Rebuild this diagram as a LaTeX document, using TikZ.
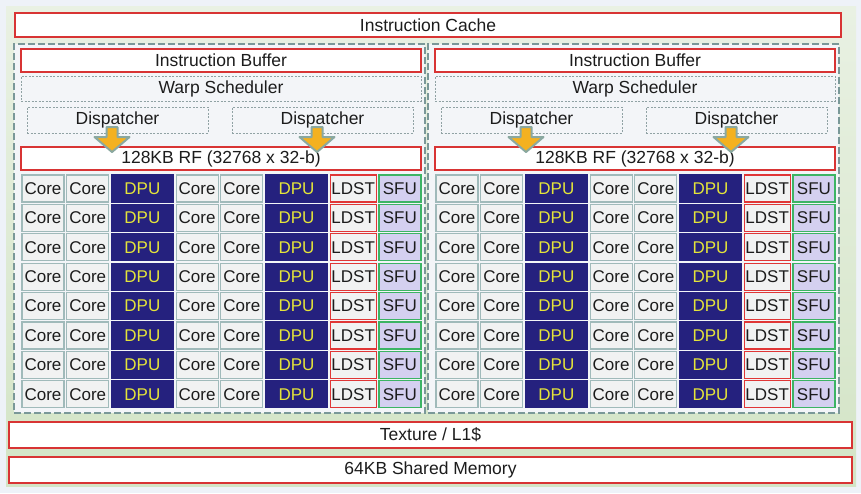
\documentclass[tikz,border=0pt]{standalone}
\usepackage{fontspec}
\setmainfont{Liberation Sans}
\usetikzlibrary{positioning}
\definecolor{pagebg}{HTML}{EEF2F8}
\definecolor{greentop}{HTML}{E9F1E3}
\definecolor{greenbot}{HTML}{D3E4C6}
\definecolor{boxred}{HTML}{D83434}
\definecolor{dashgray}{HTML}{90A2A4}
\definecolor{smline}{HTML}{7A9898}
\definecolor{smfill}{HTML}{F3F5F8}
\definecolor{corefill}{HTML}{F1F2F2}
\definecolor{coreline}{HTML}{A0BABA}
\definecolor{dpublue}{HTML}{25217E}
\definecolor{dpuyellow}{HTML}{E4E43A}
\definecolor{ldstred}{HTML}{E03636}
\definecolor{sfugreen}{HTML}{3CB464}
\definecolor{sfulilac}{HTML}{D4D0F0}
\definecolor{arroworange}{HTML}{F4B120}
\definecolor{arrowline}{HTML}{8AA8A0}
\definecolor{txt}{HTML}{1C1C1C}

\begin{document}
\begin{tikzpicture}[x=1pt,y=1pt,inner sep=0pt,outer sep=0pt,
    font=\fontsize{17.5}{19}\selectfont,text=txt]
        \tikzstyle{redbox}=[draw=boxred,fill=white,line width=1.5pt]
        \tikzstyle{dashbox}=[draw=dashgray,line width=0.9pt,dash pattern=on 2pt off 1.5pt]
        \tikzstyle{smbox}=[draw=smline,fill=smfill,line width=2.6pt,dash pattern=on 7pt off 3pt]
        \tikzstyle{cell}=[minimum height=27pt,line width=1.2pt,font=\fontsize{17}{19}\selectfont]
        \tikzstyle{core}=[cell,draw=coreline,fill=corefill,minimum width=42pt]
        \tikzstyle{dpu}=[cell,draw=dpublue,fill=dpublue,text=dpuyellow,minimum width=62pt]
        \tikzstyle{ldst}=[cell,draw=ldstred,fill=corefill,minimum width=46pt]
        \tikzstyle{sfu}=[cell,draw=sfugreen,fill=sfulilac,minimum width=42pt]
        \tikzstyle{fatarrow}=[draw=arrowline,fill=arroworange,line width=2pt,line join=round]

        \useasboundingbox (0,0) rectangle (861,-493);
        \fill[pagebg] (0,0) rectangle (861,-493);
        \shade[top color=greentop,bottom color=greenbot] (6,-6) rectangle (856,-486);

        \node[redbox,minimum width=826pt,minimum height=24pt] (icache) at (428,-25)   {Instruction Cache};
        \node[redbox,minimum width=843pt,minimum height=26pt] (tex)    at (430.5,-435) {Texture / L1\$};
        \node[redbox,minimum width=843pt,minimum height=26pt] (smem)   at (430.5,-470) {64KB Shared Memory};

        \foreach \s/\o in {L/0,R/414} {
          \node[smbox,minimum width=411pt,minimum height=369pt] (\s sm) at ({219.5+\o},-228.5) { };
          \node[redbox,minimum width=400pt,minimum height=23pt] (\s buf)  at ({221+\o},-60.5)  {Instruction Buffer};
          \node[dashbox,minimum width=400pt,minimum height=25pt] (\s warp) at ({221+\o},-88.5)  {Warp Scheduler};
          \node[dashbox,minimum width=181pt,minimum height=26pt] (\s dp1)  at ({117.5+\o},-120) {Dispatcher};
          \node[dashbox,minimum width=181pt,minimum height=26pt] (\s dp2)  at ({322.5+\o},-120) {Dispatcher};
          \node[redbox,minimum width=400pt,minimum height=23pt]  (\s rf)   at ({221+\o},-158.5) {128KB RF (32768 x 32-b)};

          % dispatch arrows into the register file
          \foreach \d in {1,2}
            \draw[fatarrow] ([xshift=-5.5pt,yshift=6pt]\s dp\d.south) ++(-5.5,0) -- ++(0,-10) -- ++(-12,0)
                  -- ++(17.5,-15) -- ++(17.5,15) -- ++(-12,0) -- ++(0,10) -- cycle;

          % eight rows of units
          \foreach \r in {0,...,7} {
            \node[core] (\s c\r a) at ({43+\o},{-188.5-29.4*\r}) {Core};
            \node[core] (\s c\r b) [right=2.7pt of \s c\r a] {Core};
            \node[dpu]  (\s d\r a) [right=2.7pt of \s c\r b] {DPU};
            \node[core] (\s c\r c) [right=2.7pt of \s d\r a] {Core};
            \node[core] (\s c\r d) [right=2.7pt of \s c\r c] {Core};
            \node[dpu]  (\s d\r b) [right=2.7pt of \s c\r d] {DPU};
            \node[ldst] (\s l\r)   [right=2.7pt of \s d\r b] {LDST};
            \node[sfu]  (\s f\r)   [right=2.7pt of \s l\r]   {SFU};
          }
        }
\end{tikzpicture}
\end{document}
